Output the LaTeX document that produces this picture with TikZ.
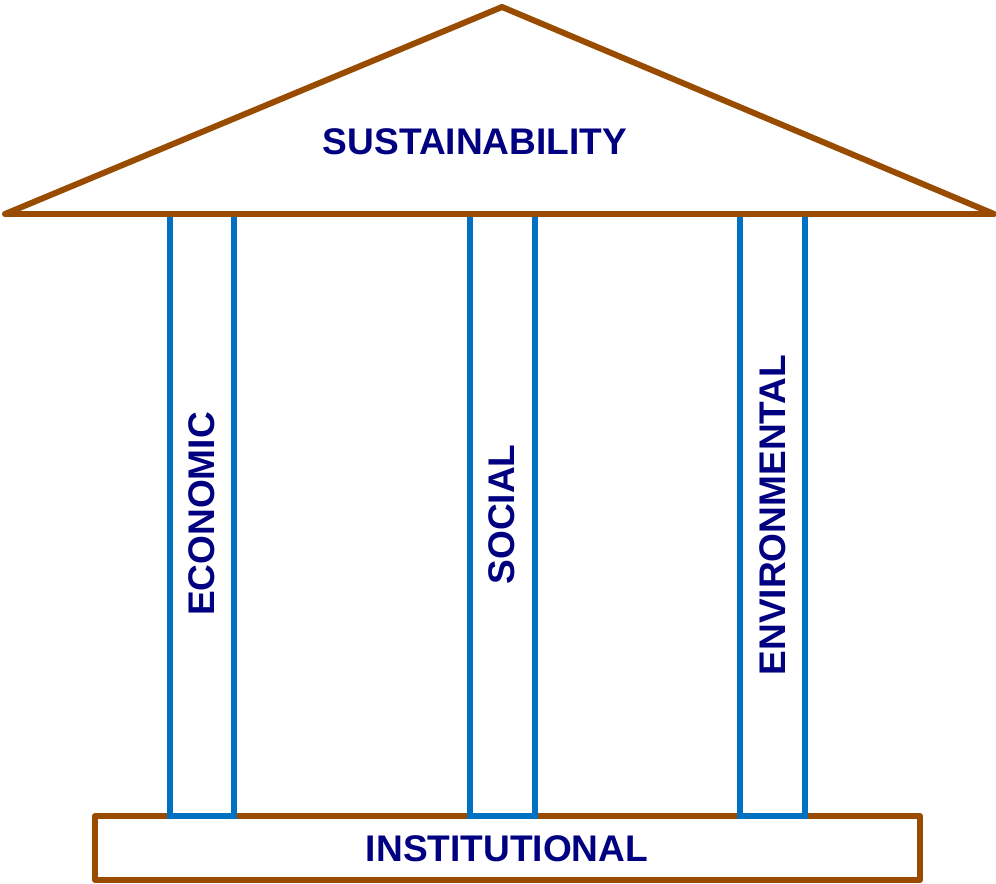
\documentclass[tikz,border=0pt]{standalone}
\usepackage{fontspec}
\setmainfont{Liberation Sans}
\usepackage{xcolor}
\usepackage{tikz}
\usetikzlibrary{calc}
\definecolor{bg}{HTML}{FFFFFF}
\definecolor{brown}{HTML}{994C00}
\definecolor{pillarblue}{HTML}{0070C0}
\definecolor{navy}{HTML}{000080}
\tikzset{
  frame/.style={draw=brown, line width=3.4pt, line cap=round, line join=round},
  column/.style={draw=pillarblue, line width=3.4pt, line join=miter},
  lab/.style={text=navy, font=\fontsize{21.1}{25}\selectfont\bfseries, inner sep=0pt},
}
\begin{document}
\begin{tikzpicture}[x=0.02cm, y=-0.02cm]
  \useasboundingbox[fill=bg] (0,0) rectangle (996,884);
  \coordinate (L) at (5,214);
  \coordinate (R) at (994,214);
  \coordinate (T) at (502,7);
  % base
  \draw[frame] (95,816) rectangle (920,880);
  % pillars
  \draw[column] (170,214) rectangle (234,816);
  \draw[column] (470,214) rectangle (535,816);
  \draw[column] (740,214) rectangle (805,816);
  % roof
  \draw[frame] (L)--(T)--(R)--cycle;
  \node[lab] (sust) at (475,141.5) {SUSTAINABILITY};
  \node[lab, rotate=90] (econ) at (202,514) {ECONOMIC};
  \node[lab, rotate=90] (soc) at (502,514.5) {SOCIAL};
  \node[lab, rotate=90] (env) at (772.5,515) {ENVIRONMENTAL};
  \node[lab] (inst) at (507,848.5) {INSTITUTIONAL};
\end{tikzpicture}
\end{document}
